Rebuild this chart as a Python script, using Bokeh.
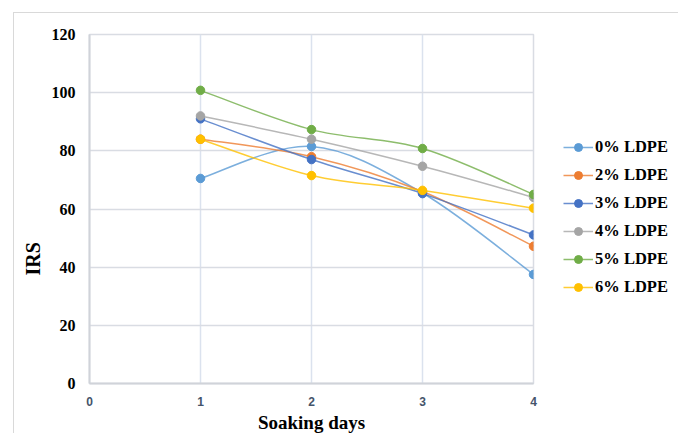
from bokeh.plotting import figure
from bokeh.layouts import column
from bokeh.models import Legend, LegendItem, Title, FixedTicker, Range1d
from bokeh.embed import file_html
from bokeh.resources import INLINE

days = [1, 2, 3, 4]
series_names = ["0% LDPE", "2% LDPE", "3% LDPE", "4% LDPE", "5% LDPE", "6% LDPE"]
irs_0 = [70.5, 81.5, 65.5, 37.5]
irs_2 = [84.0, 78.0, 66.0, 47.2]
irs_3 = [91.0, 77.0, 65.3, 51.1]
irs_4 = [92.0, 84.0, 74.7, 64.0]
irs_5 = [100.8, 87.3, 80.8, 65.0]
irs_6 = [84.0, 71.5, 66.4, 60.3]
colors = ["#5B9BD5", "#ED7D31", "#4472C4", "#A5A5A5", "#70AD47", "#FFC000"]
x_ticks = [0, 1, 2, 3, 4]
y_ticks = [0, 20, 40, 60, 80, 100, 120]

all_series = [irs_0, irs_2, irs_3, irs_4, irs_5, irs_6]

p = figure(frame_width=444, frame_height=349, output_backend="svg", toolbar_location=None,
           x_range=Range1d(0, 4), y_range=Range1d(0, 120),
           min_border_left=75, min_border_right=136, min_border_top=21, min_border_bottom=50)
p.background_fill_color = "white"
p.border_fill_color = "white"
p.outline_line_color = "#d9dce3"
p.outline_line_width = 1.5

p.xgrid.ticker = FixedTicker(ticks=x_ticks)
p.ygrid.ticker = FixedTicker(ticks=y_ticks)
p.xgrid.grid_line_color = "#dbe2ee"
p.ygrid.grid_line_color = "#d9dce3"
p.xgrid.grid_line_width = 1.5
p.ygrid.grid_line_width = 1.5

p.xaxis.ticker = FixedTicker(ticks=x_ticks)
p.yaxis.ticker = FixedTicker(ticks=y_ticks)
for ax in (p.xaxis[0], p.yaxis[0]):
    ax.major_tick_line_color = None
    ax.minor_tick_line_color = None
    ax.axis_line_color = "#d0d3d9"
    ax.axis_line_width = 2
p.yaxis.major_label_text_font = "Liberation Serif"
p.yaxis.major_label_text_font_style = "bold"
p.yaxis.major_label_text_font_size = "16px"
p.yaxis.major_label_text_color = "#000000"
p.yaxis.major_label_standoff = 8
p.xaxis.major_label_text_font = "Liberation Sans"
p.xaxis.major_label_text_font_style = "bold"
p.xaxis.major_label_text_font_size = "12px"
p.xaxis.major_label_text_color = "#44546A"
p.xaxis.major_label_standoff = 7


def bezier_segments(xs, ys):
    n = len(xs)
    px = [xs[0]] + list(xs) + [xs[-1]]
    py = [ys[0]] + list(ys) + [ys[-1]]
    segs = {"x0": [], "y0": [], "x1": [], "y1": [], "cx0": [], "cy0": [], "cx1": [], "cy1": []}
    for i in range(n - 1):
        a, b, c, d = i, i + 1, i + 2, i + 3
        segs["x0"].append(px[b]); segs["y0"].append(py[b])
        segs["x1"].append(px[c]); segs["y1"].append(py[c])
        segs["cx0"].append(px[b] + (px[c] - px[a]) / 6)
        segs["cy0"].append(py[b] + (py[c] - py[a]) / 6)
        segs["cx1"].append(px[c] - (px[d] - px[b]) / 6)
        segs["cy1"].append(py[c] - (py[d] - py[b]) / 6)
    return segs

items = []
for name, vals, col in zip(series_names, all_series, colors):
    s = bezier_segments(days, vals)
    p.bezier(x0=s["x0"], y0=s["y0"], x1=s["x1"], y1=s["y1"],
             cx0=s["cx0"], cy0=s["cy0"], cx1=s["cx1"], cy1=s["cy1"],
             line_color=col, line_width=1.5, line_alpha=0.8)
    ln_leg = p.line([days[0], days[0]], [vals[0], vals[0]], line_color=col, line_width=1.5, line_alpha=0.8)
    sc = p.scatter(days, vals, size=8.5, fill_color=col, line_color=col)
    items.append(LegendItem(label=name, renderers=[ln_leg, sc]))

legend = Legend(items=items, location=(30, 86),
                label_text_font="Liberation Serif", label_text_font_style="bold",
                label_text_font_size="16.5px", label_text_color="#000000",
                glyph_width=30, glyph_height=20, label_height=20, spacing=8,
                label_standoff=2, padding=0, margin=0,
                border_line_color=None, background_fill_alpha=0)
p.add_layout(legend, "right")

p.add_layout(Title(text="Soaking days", align="center", standoff=2, text_font="Liberation Serif",
                   text_font_style="bold", text_font_size="19px", text_color="#000000"), "below")
p.add_layout(Title(text="IRS", align="left", offset=108, text_font="Liberation Serif",
                   text_font_style="bold", text_font_size="20px", text_color="#000000"), "left")

page = column(p, styles={"margin-left": "13px", "margin-top": "12px",
                         "border-left": "1px solid #d9d9d9", "border-top": "1px solid #d9d9d9",
                         "border-right": "1px solid #d9d9d9"})

open("out.html", "w").write(file_html(page, INLINE))
